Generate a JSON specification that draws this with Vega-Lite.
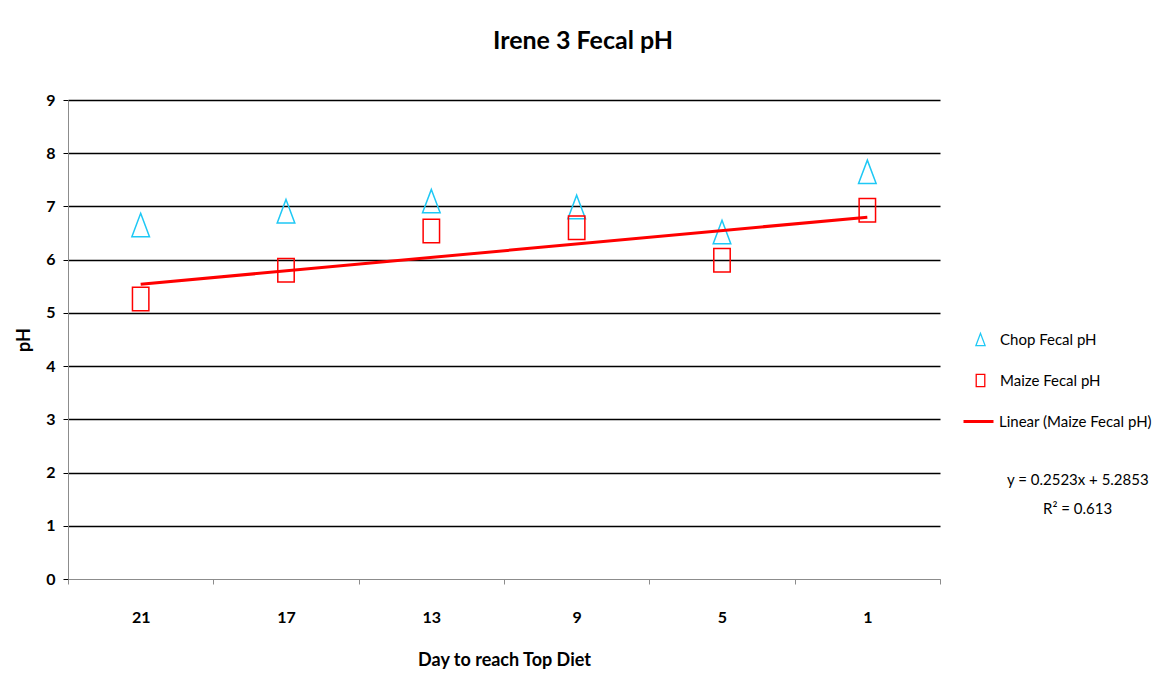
{
  "$schema": "https://vega.github.io/schema/vega-lite/v6.json",
  "width": 872,
  "height": 479,
  "autosize": {"type": "none"},
  "padding": {"left": 68, "top": 100, "right": 223, "bottom": 109},
  "background": "white",
  "config": {
    "font": "Lato",
    "view": {"stroke": null}
  },
  "title": {
    "text": "Irene 3 Fecal pH",
    "anchor": "middle",
    "dx": 79,
    "offset": 38,
    "fontSize": 25,
    "fontWeight": "bold",
    "color": "#000000",
    "font": "Lato"
  },
  "datasets": {
    "points": [
      {"day": "21", "series": "Chop Fecal pH", "ph": 6.65},
      {"day": "17", "series": "Chop Fecal pH", "ph": 6.91},
      {"day": "13", "series": "Chop Fecal pH", "ph": 7.10},
      {"day": "9", "series": "Chop Fecal pH", "ph": 6.99},
      {"day": "5", "series": "Chop Fecal pH", "ph": 6.52},
      {"day": "1", "series": "Chop Fecal pH", "ph": 7.65},
      {"day": "21", "series": "Maize Fecal pH", "ph": 5.26},
      {"day": "17", "series": "Maize Fecal pH", "ph": 5.80},
      {"day": "13", "series": "Maize Fecal pH", "ph": 6.54},
      {"day": "9", "series": "Maize Fecal pH", "ph": 6.60},
      {"day": "5", "series": "Maize Fecal pH", "ph": 5.99},
      {"day": "1", "series": "Maize Fecal pH", "ph": 6.93}
    ],
    "trend": [
      {"day": "21", "label": "Linear (Maize Fecal pH)", "ph": 5.5376},
      {"day": "1", "label": "Linear (Maize Fecal pH)", "ph": 6.7991}
    ]
  },
  "layer": [
    {
      "data": {"name": "points"},
      "mark": {"type": "point", "filled": false, "size": 550, "strokeWidth": 1.5, "opacity": 1},
      "encoding": {
        "x": {
          "field": "day", "type": "ordinal",
          "sort": ["21", "17", "13", "9", "5", "1"],
          "scale": {"domain": ["21", "17", "13", "9", "5", "1"], "paddingInner": 0, "paddingOuter": 0},
          "axis": {
            "title": "Day to reach Top Diet",
            "titleFontSize": 18, "titleFontWeight": "bold", "titleColor": "#000000", "titlePadding": 26,
            "labelFontSize": 16, "labelFontWeight": "bold", "labelColor": "#000000", "labelPadding": 25,
            "labelAngle": 0,
            "domainColor": "#8c8c8c", "domainWidth": 1,
            "tickColor": "#8c8c8c", "tickSize": 5, "tickBand": "extent",
            "grid": false
          }
        },
        "y": {
          "field": "ph", "type": "quantitative",
          "scale": {"domain": [0, 9], "nice": false, "zero": true},
          "axis": {
            "title": "pH",
            "titleFontSize": 18, "titleFontWeight": "bold", "titleColor": "#000000", "titlePadding": 12,
            "values": [0, 1, 2, 3, 4, 5, 6, 7, 8, 9],
            "labelFontSize": 16, "labelFontWeight": "bold", "labelColor": "#000000", "labelPadding": 8,
            "domainColor": "#8c8c8c", "domainWidth": 1,
            "tickColor": "#000000", "tickSize": 5,
            "grid": true,
            "gridColor": {"condition": {"test": "datum.value === 0", "value": "#8c8c8c"}, "value": "#000000"},
            "gridWidth": {"condition": {"test": "datum.value === 0", "value": 1}, "value": 1.5},
            "gridOpacity": 1
          }
        },
        "color": {
          "field": "series", "type": "nominal",
          "scale": {"domain": ["Chop Fecal pH", "Maize Fecal pH"], "range": ["#1EC8F5", "#FF0000"]},
          "legend": {
            "title": null, "orient": "none", "legendX": 905, "legendY": 232,
            "labelFontSize": 15, "labelColor": "#000000", "labelOffset": 12, "labelLimit": 300,
            "symbolSize": 150, "symbolStrokeWidth": 1.3, "rowPadding": 22, "padding": 0
          }
        },
        "shape": {
          "field": "series", "type": "nominal",
          "scale": {"domain": ["Chop Fecal pH", "Maize Fecal pH"], "range": ["M0,-1L0.75,1L-0.75,1Z", "M-0.7,-1H0.7V1H-0.7Z"]},
          "legend": {
            "title": null, "orient": "none", "legendX": 905, "legendY": 232,
            "labelFontSize": 15, "labelColor": "#000000", "labelOffset": 12, "labelLimit": 300,
            "symbolSize": 150, "symbolStrokeWidth": 1.3, "rowPadding": 22, "padding": 0
          }
        }
      }
    },
    {
      "data": {"name": "trend"},
      "mark": {"type": "line", "color": "#FF0000", "strokeWidth": 3},
      "encoding": {
        "x": {"field": "day", "type": "ordinal", "sort": ["21", "17", "13", "9", "5", "1"]},
        "y": {"field": "ph", "type": "quantitative"},
        "opacity": {
          "field": "label", "type": "nominal",
          "scale": {"type": "ordinal", "domain": ["Linear (Maize Fecal pH)", " ", "y = 0.2523x + 5.2853", "R² = 0.613"], "range": [1, 0, 0, 0]},
          "legend": {
            "title": null, "orient": "none", "legendX": 894, "legendY": 305,
            "symbolType": "stroke", "symbolStrokeColor": "#FF0000", "symbolStrokeWidth": 3, "symbolSize": 900,
            "labelFontSize": 15, "labelColor": "#000000", "labelOffset": 4, "labelLimit": 300, "rowPadding": 4, "padding": 0,
            "encode": {
              "labels": {
                "update": {
                  "dx": {"signal": "datum.label === 'y = 0.2523x + 5.2853' ? 8 : (datum.label === 'R² = 0.613' ? 44 : 0)"}
                }
              }
            }
          }
        }
      }
    }
  ]
}
